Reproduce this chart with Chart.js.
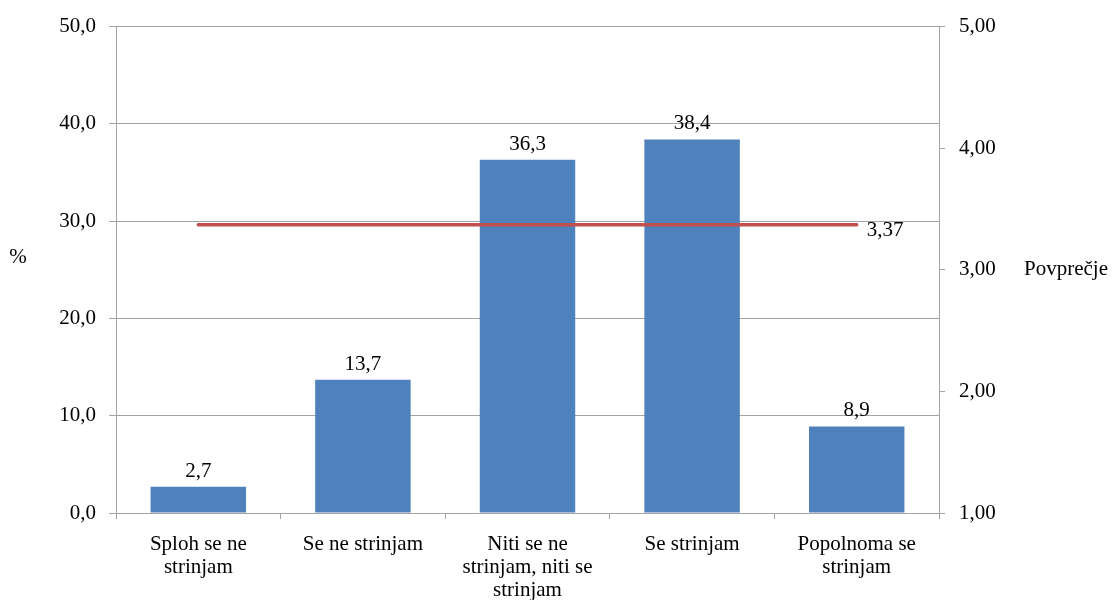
<!DOCTYPE html>
<html>
<head>
<meta charset="utf-8">
<script src="https://cdn.jsdelivr.net/npm/chart.js@4/dist/chart.umd.min.js"></script>
<style>
  html, body { margin: 0; padding: 0; background: #fff; }
  #wrap { width: 1112px; height: 600px; position: relative; }
</style>
</head>
<body>
<div id="wrap"><canvas id="c" width="1112" height="600"></canvas></div>
<script>
const categories = [
  ["Sploh se ne", "strinjam"],
  "Se ne strinjam",
  ["Niti se ne", "strinjam, niti se", "strinjam"],
  "Se strinjam",
  ["Popolnoma se", "strinjam"]
];
const percentValues = [2.7, 13.7, 36.3, 38.4, 8.9];
const averageValue = 3.37;
const averageValues = [averageValue, averageValue, averageValue, averageValue, averageValue];
const leftAxisTitle = "%";
const rightAxisTitle = "Povprečje";

const FONT = "'Liberation Serif', 'Times New Roman', serif";
const FS = 21;
const GRID = "#a3a3a3";
const comma = (v, d) => Number(v).toFixed(d).replace('.', ',');

const labelPlugin = {
  id: 'labels',
  afterDatasetsDraw(chart) {
    const ctx = chart.ctx;
    ctx.save();
    ctx.font = FS + "px " + FONT;
    ctx.fillStyle = "#000";
    const barMeta = chart.getDatasetMeta(1);
    barMeta.data.forEach((el, i) => {
      ctx.textAlign = 'center';
      ctx.textBaseline = 'alphabetic';
      ctx.fillText(comma(percentValues[i], 1), el.x, el.y - 10);
    });
    const lineMeta = chart.getDatasetMeta(0);
    const last = lineMeta.data[lineMeta.data.length - 1];
    ctx.textAlign = 'left';
    ctx.textBaseline = 'middle';
    ctx.fillText(comma(averageValue, 2), last.x + 10, last.y + 6);
    // axis titles
    const ca = chart.chartArea;
    const mid = (ca.top + ca.bottom) / 2;
    ctx.textAlign = 'center';
    ctx.fillText(leftAxisTitle, 18, mid - 12);
    ctx.textAlign = 'left';
    ctx.fillText(rightAxisTitle, ca.right + 85, mid);
    ctx.restore();
  }
};

new Chart(document.getElementById('c'), {
  data: {
    labels: categories,
    datasets: [
      {
        type: 'line',
        data: averageValues,
        yAxisID: 'y1',
        borderColor: '#C0504D',
        borderWidth: 3.5,
        borderCapStyle: 'round',
        pointRadius: 0,
        pointHoverRadius: 0,
        fill: false,
        order: 0
      },
      {
        type: 'bar',
        data: percentValues,
        yAxisID: 'y',
        backgroundColor: '#4F81BD',
        borderWidth: 0,
        barPercentage: 0.58,
        categoryPercentage: 1,
        order: 1
      }
    ]
  },
  options: {
    responsive: false,
    animation: false,
    devicePixelRatio: 1,
    layout: { padding: { top: 25, left: 0, right: 0, bottom: 0 } },
    plugins: { legend: { display: false }, tooltip: { enabled: false } },
    scales: {
      x: {
        offset: true,
        grid: { display: true, drawOnChartArea: false, drawTicks: true, tickLength: 6, color: GRID, offset: true },
        border: { display: true, color: GRID, width: 1 },
        ticks: {
          font: { family: FONT, size: FS, lineHeight: 1.1 },
          color: '#000',
          padding: 14,
          maxRotation: 0,
          autoSkip: false
        },
        afterFit(scale) { scale.height = 87; }
      },
      y: {
        position: 'left',
        min: 0, max: 50,
        grid: { color: GRID, tickLength: 7, drawTicks: true },
        border: { display: true, color: GRID, width: 1 },
        ticks: {
          stepSize: 10,
          font: { family: FONT, size: FS },
          color: '#000',
          padding: 13,
          callback: v => comma(v, 1)
        },
        afterFit(scale) { scale.width = 116; }
      },
      y1: {
        position: 'right',
        min: 1, max: 5,
        grid: { drawOnChartArea: false, color: GRID, tickLength: 6, drawTicks: true },
        border: { display: true, color: GRID, width: 1 },
        ticks: {
          stepSize: 1,
          font: { family: FONT, size: FS },
          color: '#000',
          padding: 14,
          callback: v => comma(v, 2)
        },
        afterFit(scale) { scale.width = 173; }
      }
    }
  },
  plugins: [labelPlugin]
});
</script>
</body>
</html>
